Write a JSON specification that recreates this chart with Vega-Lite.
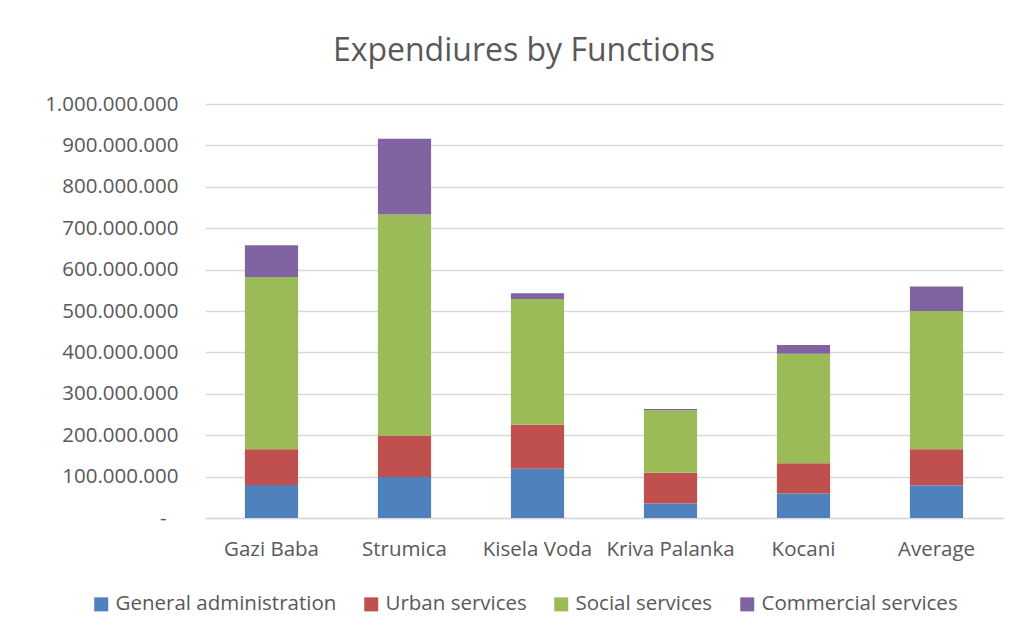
{
  "$schema": "https://vega.github.io/schema/vega-lite/v6.json",
  "width": 798,
  "height": 414,
  "autosize": {"type": "none"},
  "padding": {"left": 205, "top": 104, "right": 31, "bottom": 119},
  "background": "white",
  "config": {
    "font": "Open Sans",
    "view": {"stroke": null},
    "axis": {"labelColor": "#595959", "labelFont": "Open Sans", "labelFontSize": 20.5, "ticks": false, "title": null}
  },
  "title": {
    "text": "Expendiures by Functions",
    "fontSize": 32,
    "fontWeight": "normal",
    "color": "#595959",
    "font": "Open Sans",
    "anchor": "middle",
    "dx": -80,
    "offset": 26
  },
  "data": {
    "values": [
      {"city": "Gazi Baba", "func": "General administration", "value": 80000000},
      {"city": "Gazi Baba", "func": "Urban services", "value": 86000000},
      {"city": "Gazi Baba", "func": "Social services", "value": 416000000},
      {"city": "Gazi Baba", "func": "Commercial services", "value": 77000000},
      {"city": "Strumica", "func": "General administration", "value": 99000000},
      {"city": "Strumica", "func": "Urban services", "value": 100000000},
      {"city": "Strumica", "func": "Social services", "value": 534000000},
      {"city": "Strumica", "func": "Commercial services", "value": 183000000},
      {"city": "Kisela Voda", "func": "General administration", "value": 119000000},
      {"city": "Kisela Voda", "func": "Urban services", "value": 106000000},
      {"city": "Kisela Voda", "func": "Social services", "value": 304000000},
      {"city": "Kisela Voda", "func": "Commercial services", "value": 14000000},
      {"city": "Kriva Palanka", "func": "General administration", "value": 35000000},
      {"city": "Kriva Palanka", "func": "Urban services", "value": 74000000},
      {"city": "Kriva Palanka", "func": "Social services", "value": 151000000},
      {"city": "Kriva Palanka", "func": "Commercial services", "value": 3000000},
      {"city": "Kocani", "func": "General administration", "value": 59000000},
      {"city": "Kocani", "func": "Urban services", "value": 73000000},
      {"city": "Kocani", "func": "Social services", "value": 265000000},
      {"city": "Kocani", "func": "Commercial services", "value": 21000000},
      {"city": "Average", "func": "General administration", "value": 79000000},
      {"city": "Average", "func": "Urban services", "value": 87000000},
      {"city": "Average", "func": "Social services", "value": 334000000},
      {"city": "Average", "func": "Commercial services", "value": 59000000}
    ]
  },
  "transform": [
    {"calculate": "indexof(['General administration','Urban services','Social services','Commercial services'], datum.func)", "as": "ord"}
  ],
  "mark": {"type": "bar"},
  "encoding": {
    "x": {
      "field": "city",
      "type": "nominal",
      "sort": null,
      "scale": {"paddingInner": 0.6, "paddingOuter": 0.3},
      "axis": {"labelAngle": 0, "labelPadding": 21, "domainColor": "#d9d9d9", "domainWidth": 1.5, "grid": false}
    },
    "y": {
      "field": "value",
      "type": "quantitative",
      "aggregate": "sum",
      "stack": "zero",
      "scale": {"domain": [0, 1000000000], "nice": false},
      "axis": {
        "values": [0, 100000000, 200000000, 300000000, 400000000, 500000000, 600000000, 700000000, 800000000, 900000000, 1000000000],
        "labelExpr": "datum.value == 0 ? '-' : join(split(format(datum.value, ',d'), ','), '.')",
        "domain": false,
        "grid": true,
        "gridColor": "#d9d9d9",
        "gridWidth": 1.5,
        "labelPadding": {"condition": {"test": "datum.value == 0", "value": 39}, "value": 27}
      }
    },
    "color": {
      "field": "func",
      "type": "nominal",
      "scale": {
        "domain": ["General administration", "Urban services", "Social services", "Commercial services"],
        "range": ["#4F81BD", "#C0504D", "#9BBB59", "#8064A2"]
      },
      "legend": {
        "title": null,
        "orient": "none",
        "direction": "horizontal",
        "legendX": -114,
        "legendY": 490,
        "symbolType": "square",
        "symbolSize": 196,
        "symbolStrokeWidth": 0,
        "labelFontSize": 20.5,
        "labelColor": "#595959",
        "labelFont": "Open Sans",
        "labelOffset": 4,
        "columnPadding": 24,
        "labelLimit": 400
      }
    },
    "order": {"field": "ord", "type": "quantitative"}
  }
}
